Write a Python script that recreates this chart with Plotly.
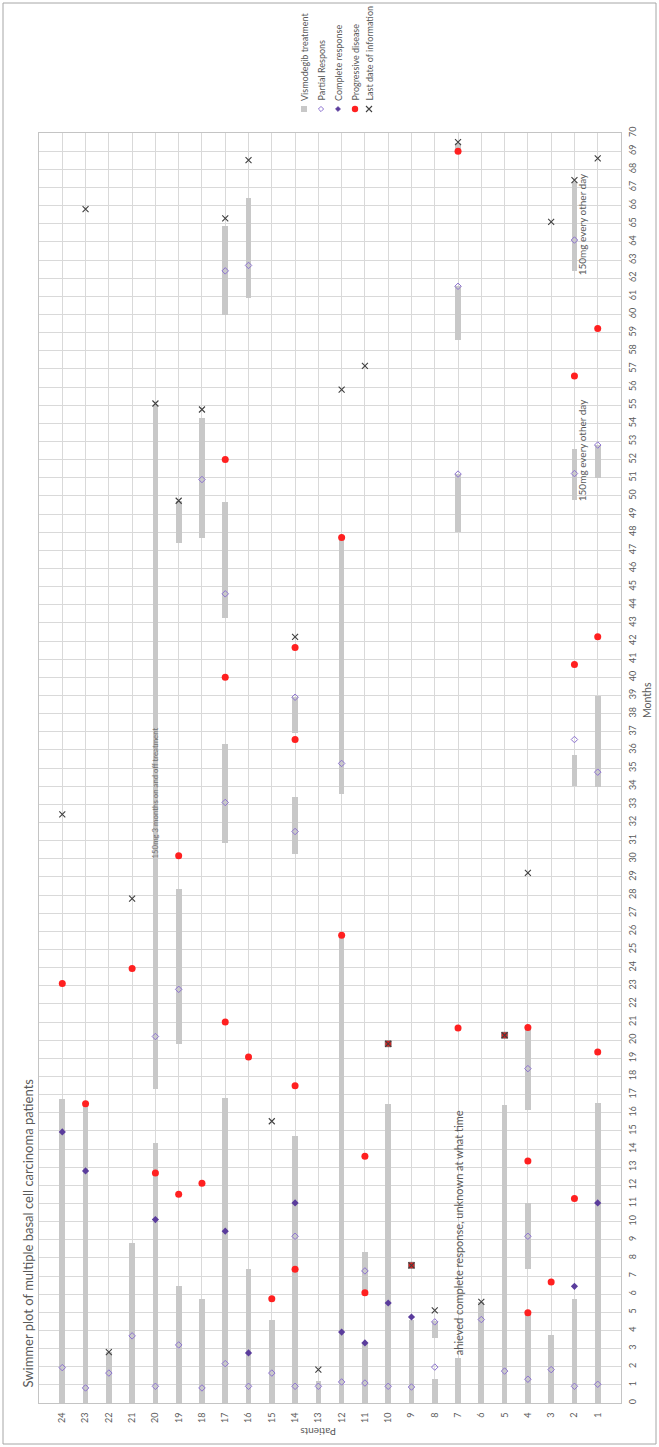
import plotly.graph_objects as go

# ---- data -----------------------------------------------------------------
patient_ticks = list(range(1, 25))

# treatment periods (patient, start month, end month)
bar_patient = [1, 1, 1,
               2, 2, 2, 2,
               3,
               4, 4, 4,
               5, 6,
               7, 7, 7, 7,
               8, 8,
               9, 10,
               11, 11,
               12, 12,
               13,
               14, 14, 14,
               15,
               16, 16,
               17, 17, 17, 17,
               18, 18,
               19, 19, 19,
               20, 20,
               21, 22, 23, 24]
bar_start = [0, 33.96, 50.96,
             0, 34.0, 49.75, 62.4,
             0,
             0, 7.41, 16.14,
             0, 0,
             0, 48.0, 58.6, 69.05,
             0, 3.6,
             0, 0,
             0, 6.1,
             0, 33.55,
             0,
             0, 30.25, 36.95,
             0,
             0, 60.9,
             0, 30.85, 43.25, 59.95,
             0, 47.65,
             0, 19.8, 47.4,
             0, 17.33,
             0, 0, 0, 0]
bar_end = [16.56, 38.98, 52.8,
           5.72, 35.7, 52.6, 67.3,
           3.77,
           4.98, 11.03, 20.67,
           16.41, 5.57,
           2.5, 51.2, 61.55, 69.45,
           1.34, 4.5,
           4.6, 16.5,
           3.27, 8.3,
           25.7, 47.65,
           1.2,
           14.7, 33.4, 38.9,
           4.56,
           7.41, 66.4,
           16.83, 36.35, 49.65, 64.9,
           5.72, 54.3,
           6.43, 28.35, 49.7,
           14.35, 55.0,
           8.82, 2.81, 16.5, 16.78]

# partial response
pr_patient = [1, 1, 1, 2, 2, 2, 2, 3, 4, 4, 4, 5, 6, 7, 7, 8, 8, 9, 10,
              11, 11, 12, 12, 13, 14, 14, 14, 14, 15, 16, 16,
              17, 17, 17, 17, 18, 18, 19, 19, 20, 20, 21, 22, 23, 24]
pr_month = [1.03, 34.77, 52.8, 0.92, 36.57, 51.23, 64.1, 1.84, 1.31, 9.19, 18.43,
            1.76, 4.6, 51.2, 61.55, 1.98, 4.47, 0.88, 0.92,
            1.1, 7.28, 1.16, 35.25, 0.92, 0.92, 9.19, 31.5, 38.9, 1.65, 0.92, 62.7,
            2.17, 33.1, 44.6, 62.4, 0.83, 50.9, 3.2, 22.8, 0.92, 20.2, 3.7, 1.65,
            0.83, 1.95]

# complete response
cr_patient = [1, 2, 9, 10, 11, 12, 14, 16, 17, 20, 23, 24]
cr_month = [11.03, 6.43, 4.74, 5.51, 3.31, 3.91, 11.03, 2.76, 9.47, 10.11, 12.79, 14.94]

# progressive disease
pd_patient = [1, 1, 1, 2, 2, 2, 3, 4, 4, 4, 5, 7, 7, 9, 10, 11, 11, 12, 12,
              14, 14, 14, 14, 15, 16, 17, 17, 17, 18, 19, 19, 20, 21, 23, 24]
pd_month = [19.35, 42.23, 59.22, 11.27, 40.7, 56.6, 6.67, 4.98, 13.34, 20.7,
            20.27, 20.67, 69.0, 7.59, 19.8, 6.08, 13.6, 25.78, 47.7,
            7.37, 17.48, 36.57, 41.64, 5.75, 19.07, 21.0, 40.0, 52.0, 12.11,
            11.5, 30.17, 12.68, 23.95, 16.5, 23.12]

# last date of information
last_patient = list(range(1, 25))
last_month = [68.6, 67.4, 65.1, 29.22, 20.27, 5.57, 69.5, 5.11, 7.59, 19.8,
              57.17, 55.86, 1.84, 42.23, 15.53, 68.5, 65.3, 54.76, 49.73, 55.09,
              27.8, 2.81, 65.8, 32.44]

legend_labels = ["Vismodegib treatment", "Partial Respons", "Complete response",
                 "Progressive disease", "Last date of information"]

# ---- styling --------------------------------------------------------------
BAR_C = "#c8c8c8"
PR_C = "#8c72d0"
CR_C = "#5a3c9c"
PD_C = "#ff2020"
LAST_C = "#404040"
TXT_C = "#595959"
GRID_C = "#d9d9d9"
FONT = "Lato"

W, H = 659, 1447
PL, PR, PT, PB = 39, 621, 133, 1403


def fx(px):
    return (px - PL) / (PR - PL)


def fy(py):
    return (PB - py) / (PB - PT)


fig = go.Figure()

fig.add_trace(go.Bar(
    x=bar_patient,
    y=[e - s for s, e in zip(bar_start, bar_end)],
    base=bar_start,
    width=0.245,
    marker=dict(color=BAR_C, line=dict(width=0)),
    showlegend=False, hoverinfo="skip"))

fig.add_trace(go.Scatter(
    x=pr_patient, y=pr_month, mode="markers",
    marker=dict(symbol="diamond-open", size=5, color=PR_C, line=dict(width=1, color=PR_C)),
    showlegend=False))

fig.add_trace(go.Scatter(
    x=cr_patient, y=cr_month, mode="markers",
    marker=dict(symbol="diamond", size=5.5, color=CR_C),
    showlegend=False))

# progression recorded on the last day of information: drawn as red square
last_pairs = set(zip(last_patient, last_month))
pd_single = [(p, m) for p, m in zip(pd_patient, pd_month) if (p, m) not in last_pairs]
pd_double = [(p, m) for p, m in zip(pd_patient, pd_month) if (p, m) in last_pairs]

fig.add_trace(go.Scatter(
    x=[p for p, _ in pd_single], y=[m for _, m in pd_single], mode="markers",
    marker=dict(symbol="circle", size=7, color=PD_C),
    showlegend=False))

fig.add_trace(go.Scatter(
    x=[p for p, _ in pd_double], y=[m for _, m in pd_double], mode="markers",
    marker=dict(symbol="square", size=6, color="#e81c1c", line=dict(width=0.6, color="#555555")),
    showlegend=False))

fig.add_trace(go.Scatter(
    x=last_patient, y=last_month, mode="markers",
    marker=dict(symbol="x-thin", size=6, line=dict(width=1.1, color=LAST_C)),
    showlegend=False))

annotations = []

# chart title
annotations.append(dict(
    text="Swimmer plot of multiple basal cell carcinoma patients",
    xref="paper", yref="paper", x=fx(27), y=fy(1390),
    xanchor="center", yanchor="bottom", textangle=-90, showarrow=False,
    font=dict(family=FONT, size=13, color=TXT_C)))

# axis titles
annotations.append(dict(
    text="Patients", xref="paper", yref="paper", x=fx(318), y=fy(1432),
    xanchor="center", yanchor="middle", textangle=180, showarrow=False,
    font=dict(family=FONT, size=10, color=TXT_C)))
annotations.append(dict(
    text="Months", xref="paper", yref="paper", x=fx(647), y=fy(700),
    xanchor="center", yanchor="middle", textangle=-90, showarrow=False,
    font=dict(family=FONT, size=10.5, color=TXT_C)))

# notes on the bars
annotations.append(dict(
    text="150mg 3 months on and off treatment", xref="x", yref="y", x=20, y=29.9,
    xanchor="center", yanchor="bottom", textangle=-90, showarrow=False,
    font=dict(family=FONT, size=7.8, color="#707070")))
annotations.append(dict(
    text="ahieved complete response, unknown at what time", xref="x", yref="y", x=7, y=2.5,
    xanchor="center", yanchor="bottom", textangle=-90, showarrow=False,
    font=dict(family=FONT, size=11, color=TXT_C)))
for y0 in (49.6, 62.05):
    annotations.append(dict(
        text="150mg every other day", xref="x", yref="y", x=1.67, y=y0,
        xanchor="center", yanchor="bottom", textangle=-90, showarrow=False,
        font=dict(family=FONT, size=10, color=TXT_C)))

# legend
leg_x = [304, 321, 338, 355, 369]
leg_sym_y = 109
for lx, lab in zip(leg_x, legend_labels):
    annotations.append(dict(
        text=lab, xref="paper", yref="paper", x=fx(lx), y=fy(103),
        xanchor="center", yanchor="bottom", textangle=-90, showarrow=False,
        font=dict(family=FONT, size=9, color=TXT_C)))

shapes = []
# outer frame
shapes.append(dict(type="rect", xref="paper", yref="paper",
                   x0=fx(3), x1=fx(656), y0=fy(3), y1=fy(1444),
                   line=dict(color="#a6a6a6", width=1), layer="below"))


def pix_shape(kind, cx, cy, path=None, r=3, color="#000", fill=None, lw=1):
    d = dict(type=kind, xref="paper", yref="paper",
             xsizemode="pixel", ysizemode="pixel",
             xanchor=fx(cx), yanchor=fy(cy),
             line=dict(color=color, width=lw),
             fillcolor=fill if fill else "rgba(0,0,0,0)")
    if path:
        d["path"] = path
    else:
        d.update(x0=-r, x1=r, y0=-r, y1=r)
    return d


diamond = "M0,2.6 L2.6,0 L0,-2.6 L-2.6,0 Z"
shapes.append(pix_shape("rect", leg_x[0], leg_sym_y, r=3, color=BAR_C, fill=BAR_C, lw=0))
shapes.append(pix_shape("path", leg_x[1], leg_sym_y, path=diamond, color=PR_C, fill="white", lw=1))
shapes.append(pix_shape("path", leg_x[2], leg_sym_y, path=diamond, color=CR_C, fill=CR_C, lw=0.5))
shapes.append(pix_shape("circle", leg_x[3], leg_sym_y, r=3.2, color=PD_C, fill=PD_C, lw=0))
shapes.append(pix_shape("path", leg_x[4], leg_sym_y, path="M-3,3 L3,-3 M-3,-3 L3,3",
                        color=LAST_C, lw=1.1))

fig.update_layout(
    width=W, height=H,
    margin=dict(l=PL, r=W - PR, t=PT, b=H - PB, pad=0),
    paper_bgcolor="white", plot_bgcolor="white",
    font=dict(family=FONT, color=TXT_C),
    annotations=annotations, shapes=shapes,
    showlegend=False, bargap=0,
    xaxis=dict(
        range=[25, 0], tickvals=patient_ticks, ticktext=[str(p) for p in patient_ticks],
        tickangle=-90, tickfont=dict(size=9, color=TXT_C),
        ticks="outside", ticklen=5, tickcolor="rgba(0,0,0,0)",
        showgrid=True, gridcolor=GRID_C, gridwidth=1, zeroline=False,
        showline=True, linecolor="#c4c4c4", linewidth=1, mirror=True),
    yaxis=dict(
        range=[0, 70], side="right", tick0=0, dtick=1,
        tickangle=-90, tickfont=dict(size=9, color=TXT_C),
        ticks="outside", ticklen=3, tickcolor="rgba(0,0,0,0)",
        showgrid=True, gridcolor=GRID_C, gridwidth=1, zeroline=False,
        showline=True, linecolor="#c4c4c4", linewidth=1, mirror=True),
)

fig.write_html("out.html")
